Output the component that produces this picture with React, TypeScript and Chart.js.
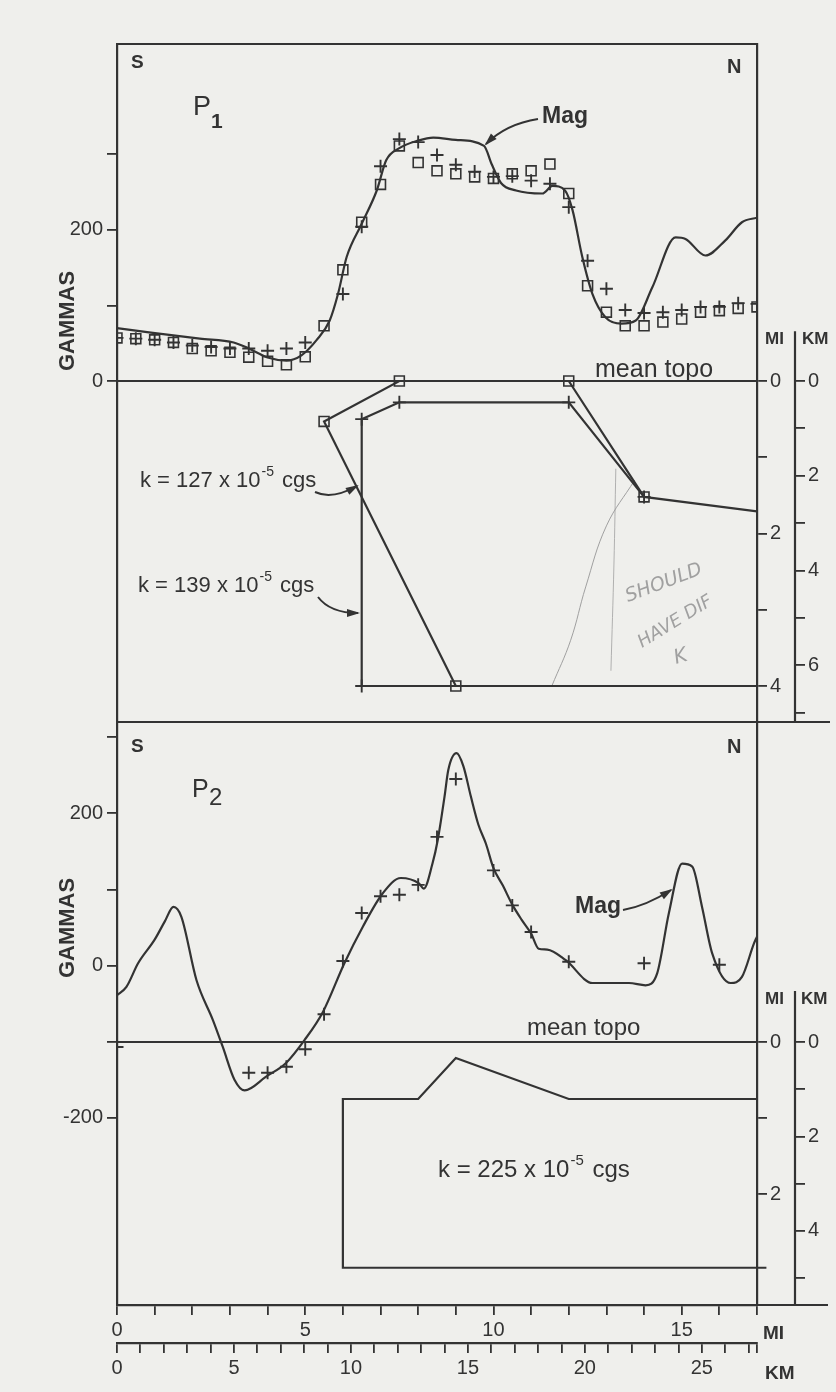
import React, { useEffect, useRef } from 'react';
import { Chart, registerables } from 'chart.js';

Chart.register(...registerables);

const INK = '#333333';
const PAPER = '#efefec';
const PENCIL = '#a0a0a0';
const FONT = '"Liberation Sans", Arial, sans-serif';
const KM_PER_MI = 1.609344;

// ---------- axis ticks ----------
const MI_TICKS = [0, 1, 2, 3, 4, 5, 6, 7, 8, 9, 10, 11, 12, 13, 14, 15, 16, 17];
const MI_LABELS = [0, 5, 10, 15];
const KM_TICKS = [0, 1, 2, 3, 4, 5, 6, 7, 8, 9, 10, 11, 12, 13, 14, 15, 16, 17, 18, 19, 20, 21, 22, 23, 24, 25, 26, 27];
const KM_LABELS = [0, 5, 10, 15, 20, 25];
const P1_GAMMA_TICKS = [0, 100, 200, 300];
const P1_GAMMA_LABELS = [0, 200];
const P2_GAMMA_TICKS = [300, 200, 100, 0, -100, -200];
const P2_GAMMA_LABELS = [200, 0, -200];
const P1_DEPTH_MI_TICKS = [0, 1, 2, 3, 4];
const P1_DEPTH_MI_LABELS = [0, 2, 4];
const P1_DEPTH_KM_TICKS = [0, 1, 2, 3, 4, 5, 6, 7];
const P1_DEPTH_KM_LABELS = [0, 2, 4, 6];
const P2_DEPTH_MI_TICKS = [0, 1, 2];
const P2_DEPTH_MI_LABELS = [0, 2];
const P2_DEPTH_KM_TICKS = [0, 1, 2, 3, 4, 5];
const P2_DEPTH_KM_LABELS = [0, 2, 4];

// ---------- P1 profile (gammas) ----------
const P1_MAG_MI = [0, 0.9, 2.2, 3.1, 3.5, 4.0, 4.5, 4.9, 5.3, 5.65, 5.87, 6.1, 6.5, 6.9, 7.15, 7.5, 8.0, 8.4, 9.0, 9.75, 9.95, 10.2, 10.6, 11.3, 11.57, 11.9, 12.1, 12.36, 12.63, 12.98, 13.4, 13.78, 14.22, 14.84, 15.1, 15.63, 16.16, 16.6, 17.0];
const P1_MAG_G = [70, 64, 56, 51, 43, 31, 27, 34, 54, 80, 115, 164, 208, 252, 292, 308, 318, 322, 319, 311, 287, 262, 252, 248, 258, 252, 226, 164, 115, 84, 76, 80, 124, 190, 188, 166, 186, 210, 216];

const P1_OBS_MI = [0, 0.5, 1, 1.5, 2, 2.5, 3, 3.5, 4, 4.5, 5, 5.5, 6, 6.5, 7, 7.5, 8, 8.5, 9, 9.5, 10, 10.5, 11, 11.5, 12, 12.5, 13, 13.5, 14, 14.5, 15, 15.5, 16, 16.5, 17];
const P1_SQUARE_G = [57, 56, 54.5, 51, 43, 40, 38, 31.5, 26, 21.4, 32, 73, 147, 210, 260, 311, 289, 278, 274, 270, 268, 274, 278, 287, 248, 126, 91, 73, 73, 78, 82, 91, 93, 96, 98];
const P1_PLUS_G = [57, 56, 54.5, 51, 47, 45, 43, 43, 40, 43, 51, null, 115, 204, 284, 320, 316, 299, 286, 277, 270, 271, 265, 261, 230, 159, 122, 94, 90, 91, 94, 98, 98, 103, 102];

// ---------- P1 models (depth, miles) ----------
const P1_SQ_MODEL_MI = [9, 5.5, 7.5, 12, 14, 17];
const P1_SQ_MODEL_DEPTH = [4, 0.53, 0, 0, 1.52, 1.71];
const P1_PLUS_MODEL_MI = [17, 6.5, 6.5, 7.5, 12, 14];
const P1_PLUS_MODEL_DEPTH = [4, 4, 0.5, 0.28, 0.28, 1.52];
const P1_SQ_VERTEX_MI = [5.5, 7.5, 12, 14, 9];
const P1_SQ_VERTEX_DEPTH = [0.53, 0, 0, 1.52, 4];
const P1_PLUS_VERTEX_MI = [6.5, 7.5, 12, 14, 6.5];
const P1_PLUS_VERTEX_DEPTH = [0.5, 0.28, 0.28, 1.52, 4];
const P1_PENCIL_A_MI = [13.75, 13.0, 12.45, 12.05, 11.55];
const P1_PENCIL_A_DEPTH = [1.3, 1.9, 2.7, 3.4, 4.0];
const P1_PENCIL_B_MI = [13.25, 13.2, 13.12];
const P1_PENCIL_B_DEPTH = [1.15, 2.4, 3.8];
const TOPO_MI = [0, 17];
const TOPO_DEPTH = [0, 0];

// ---------- P2 profile (gammas) ----------
const P2_MAG_MI = [0, 0.25, 0.56, 1.0, 1.27, 1.5, 1.71, 2.11, 2.55, 2.81, 3.12, 3.39, 3.96, 4.49, 4.98, 5.47, 6.04, 6.53, 7.06, 7.54, 8.02, 8.15, 8.38, 8.52, 8.7, 8.8, 9.02, 9.2, 9.4, 9.6, 9.8, 10.0, 10.25, 10.5, 10.75, 11.0, 11.2, 11.43, 11.92, 12.63, 13.6, 14.04, 14.35, 14.66, 15.01, 15.28, 15.54, 15.81, 16.3, 16.6, 16.92, 17.0];
const P2_MAG_G = [-39, -28, 3, 34, 58, 77, 64, -19, -72, -107, -150, -164, -146, -128, -98, -61, 3, 51, 95, 115, 108, 101, 134, 165, 222, 257, 279, 262, 222, 185, 160, 128, 105, 80, 60, 42, 22, 21, 7, -23, -23, -26, -10, 69, 134, 130, 77, 16, -23, -15, 29, 38];
const P2_PLUS_MI = [0, 3.5, 4, 4.5, 5, 5.5, 6, 6.5, 7, 7.5, 8, 8.5, 9, 10, 10.5, 11, 12, 14, 16];
const P2_PLUS_G = [-107, -141, -141, -133, -110, -64, 6, 69, 91, 93, 106, 169, 245, 125, 79, 44, 5, 3, 1];

// ---------- P2 model (depth, miles) ----------
const P2_BLOCK_MI = [17.25, 6, 6, 8, 9, 12, 17];
const P2_BLOCK_DEPTH = [2.97, 2.97, 0.75, 0.75, 0.21, 0.75, 0.75];

const pts = (xs: number[], ys: (number | null)[]) =>
  xs.map((x, i) => ({ x, y: ys[i] })).filter((p) => p.y !== null);

const setTicks = (vals: number[]) => (s: any) => {
  s.ticks = vals.map((v) => ({ value: v }));
};
const labelIf = (vals: number[]) => (v: any) => (vals.includes(Number(v)) ? String(v) : '');

const gridStyle = { display: true, drawOnChartArea: false, drawTicks: true, tickLength: 10, color: INK, lineWidth: 1.8 };
const borderStyle = { display: true, color: INK, width: 2.2 };
const tickFont = { family: FONT, size: 20 };

function drawArrow(ctx: CanvasRenderingContext2D, p0: number[], c: number[], p1: number[]) {
  ctx.beginPath();
  ctx.moveTo(p0[0], p0[1]);
  ctx.quadraticCurveTo(c[0], c[1], p1[0], p1[1]);
  ctx.stroke();
  const ang = Math.atan2(p1[1] - c[1], p1[0] - c[0]);
  const L = 11, W = 4;
  ctx.beginPath();
  ctx.moveTo(p1[0] + Math.cos(ang) * 2, p1[1] + Math.sin(ang) * 2);
  ctx.lineTo(p1[0] - Math.cos(ang) * L - Math.sin(ang) * W, p1[1] - Math.sin(ang) * L + Math.cos(ang) * W);
  ctx.lineTo(p1[0] - Math.cos(ang) * L + Math.sin(ang) * W, p1[1] - Math.sin(ang) * L - Math.cos(ang) * W);
  ctx.closePath();
  ctx.fill();
}

function drawK(ctx: CanvasRenderingContext2D, x: number, y: number, val: string, size: number) {
  ctx.textAlign = 'left';
  ctx.textBaseline = 'alphabetic';
  ctx.font = `${size}px ${FONT}`;
  const a = `k = ${val} x 10`;
  ctx.fillText(a, x, y);
  const w = ctx.measureText(a).width;
  ctx.font = `${Math.round(size * 0.62)}px ${FONT}`;
  ctx.fillText('-5', x + w + 1, y - size * 0.5);
  const w2 = ctx.measureText('-5').width;
  ctx.font = `${size}px ${FONT}`;
  ctx.fillText(' cgs', x + w + w2 + 3, y);
}

const decorPlugin = {
  id: 'decor',
  beforeDraw(chart: any) {
    const { ctx, width, height } = chart;
    ctx.save();
    ctx.fillStyle = PAPER;
    ctx.fillRect(0, 0, width, height);
    ctx.restore();
  },
  afterDraw(chart: any) {
    const { ctx, chartArea: a, scales } = chart;
    ctx.save();
    ctx.strokeStyle = INK;
    ctx.fillStyle = INK;
    ctx.lineWidth = 2.2;
    const seg = (x1: number, y1: number, x2: number, y2: number) => {
      ctx.beginPath();
      ctx.moveTo(x1, y1);
      ctx.lineTo(x2, y2);
      ctx.stroke();
    };
    // frame pieces
    seg(a.left - 1, a.top, a.right + 1, a.top);
    const sepY = scales.y1.bottom;
    seg(a.left, sepY, 830, sepY);
    seg(a.right, a.bottom, 828, a.bottom);
    const k1 = scales.km1, k2 = scales.km2;
    seg(k1.left, k1.getPixelForValue(-1.05), k1.left, k1.bottom);
    seg(k2.left, k2.getPixelForValue(-1.08), k2.left, k2.bottom);

    const text = (s: string, x: number, y: number, font: string) => {
      ctx.font = font;
      ctx.textAlign = 'left';
      ctx.textBaseline = 'alphabetic';
      ctx.fillText(s, x, y);
    };
    // panel labels
    text('S', 131, 68, `bold 19px ${FONT}`);
    text('N', 727, 73, `bold 20px ${FONT}`);
    text('P', 193, 115, `27px ${FONT}`);
    text('1', 211, 128, `bold 21px ${FONT}`);
    text('S', 131, 752, `bold 19px ${FONT}`);
    text('N', 727, 753, `bold 20px ${FONT}`);
    text('P', 192, 797, `25px ${FONT}`);
    text('2', 209, 805, `24px ${FONT}`);

    // GAMMAS
    for (const cy of [321, 928]) {
      ctx.save();
      ctx.translate(68, cy);
      ctx.rotate(-Math.PI / 2);
      ctx.font = `bold 22px ${FONT}`;
      ctx.textAlign = 'center';
      ctx.textBaseline = 'middle';
      ctx.fillText('GAMMAS', 0, 0);
      ctx.restore();
    }

    text('mean topo', 595, 377, `25px ${FONT}`);
    text('mean topo', 527, 1035, `24px ${FONT}`);
    text('Mag', 542, 123, `bold 23px ${FONT}`);
    text('Mag', 575, 913, `bold 23px ${FONT}`);

    ctx.lineWidth = 2;
    drawArrow(ctx, [538, 119], [506, 124], [486, 144]);
    drawArrow(ctx, [623, 910], [646, 906], [671, 890]);
    drawArrow(ctx, [315, 492], [332, 500], [357, 486]);
    drawArrow(ctx, [318, 597], [330, 613], [358, 613]);

    drawK(ctx, 140, 487, '127', 22);
    drawK(ctx, 138, 592, '139', 22);
    drawK(ctx, 438, 1177, '225', 24);

    // depth axis headers
    text('MI', 765, 344, `bold 17px ${FONT}`);
    text('KM', 802, 344, `bold 17px ${FONT}`);
    text('MI', 765, 1004, `bold 17px ${FONT}`);
    text('KM', 801, 1004, `bold 17px ${FONT}`);
    // bottom axis units
    text('MI', 763, 1339, `bold 19px ${FONT}`);
    text('KM', 765, 1379, `bold 19px ${FONT}`);

    // pencil note
    ctx.fillStyle = PENCIL;
    const pencil = (s: string, x: number, y: number, rot: number, size: number) => {
      ctx.save();
      ctx.translate(x, y);
      ctx.rotate(rot);
      ctx.font = `italic ${size}px "DejaVu Sans", sans-serif`;
      ctx.textAlign = 'left';
      ctx.textBaseline = 'alphabetic';
      ctx.fillText(s, 0, 0);
      ctx.restore();
    };
    pencil('SHOULD', 628, 602, -0.36, 19);
    pencil('HAVE DIF', 642, 648, -0.55, 18);
    pencil('K', 676, 664, -0.3, 20);
    ctx.restore();
  },
};

export default function App() {
  const ref = useRef<HTMLCanvasElement>(null);
  useEffect(() => {
    const canvas = ref.current;
    if (!canvas) return;

    const line = (data: any[], yAxisID: string, extra: any = {}) => ({
      type: 'line',
      data,
      xAxisID: 'x',
      yAxisID,
      borderColor: INK,
      borderWidth: 2.2,
      pointRadius: 0,
      fill: false,
      tension: 0,
      showLine: true,
      ...extra,
    });
    const markers = (data: any[], yAxisID: string, style: string) => ({
      type: 'line',
      data,
      xAxisID: 'x',
      yAxisID,
      showLine: false,
      pointStyle: style,
      pointRadius: style === 'rect' ? 7 : 6.5,
      pointBorderColor: INK,
      pointBackgroundColor: 'rgba(0,0,0,0)',
      pointBorderWidth: style === 'rect' ? 1.6 : 1.9,
      borderColor: INK,
    });

    const datasets: any[] = [
      line(pts(P1_MAG_MI, P1_MAG_G), 'y1', { cubicInterpolationMode: 'monotone' }),
      markers(pts(P1_OBS_MI, P1_SQUARE_G), 'y1', 'rect'),
      markers(pts(P1_OBS_MI, P1_PLUS_G), 'y1', 'cross'),
      line(pts(TOPO_MI, TOPO_DEPTH), 'mi1'),
      line(pts(P1_SQ_MODEL_MI, P1_SQ_MODEL_DEPTH), 'mi1'),
      line(pts(P1_PLUS_MODEL_MI, P1_PLUS_MODEL_DEPTH), 'mi1'),
      markers(pts(P1_SQ_VERTEX_MI, P1_SQ_VERTEX_DEPTH), 'mi1', 'rect'),
      markers(pts(P1_PLUS_VERTEX_MI, P1_PLUS_VERTEX_DEPTH), 'mi1', 'cross'),
      line(pts(P1_PENCIL_A_MI, P1_PENCIL_A_DEPTH), 'mi1', { borderColor: PENCIL, borderWidth: 1, tension: 0.4 }),
      line(pts(P1_PENCIL_B_MI, P1_PENCIL_B_DEPTH), 'mi1', { borderColor: PENCIL, borderWidth: 0.8, tension: 0.4 }),
      line(pts(P2_MAG_MI, P2_MAG_G), 'y2', { cubicInterpolationMode: 'monotone' }),
      markers(pts(P2_PLUS_MI, P2_PLUS_G), 'y2', 'cross'),
      line(pts(TOPO_MI, TOPO_DEPTH), 'mi2'),
      line(pts(P2_BLOCK_MI, P2_BLOCK_DEPTH), 'mi2', { clip: false }),
    ];

    const common = { grid: gridStyle, border: borderStyle };
    const tk = (labels: number[], padding: number) => ({
      color: INK, font: tickFont, padding, autoSkip: false, maxRotation: 0, callback: labelIf(labels),
    });

    const chart = new Chart(canvas, {
      type: 'line',
      data: { datasets },
      plugins: [decorPlugin],
      options: {
        responsive: false,
        animation: false,
        events: [],
        layout: { padding: { top: 44, left: 0, right: 0, bottom: 0 } },
        plugins: { legend: { display: false }, tooltip: { enabled: false }, title: { display: false } },
        scales: {
          x: {
            type: 'linear', position: 'bottom', weight: 0, min: 0, max: 17,
            afterBuildTicks: setTicks(MI_TICKS), afterFit: (s: any) => { s.height = 38; },
            ticks: tk(MI_LABELS, 3), ...common,
          },
          xkm: {
            type: 'linear', position: 'bottom', weight: 1, min: 0, max: 17 * KM_PER_MI,
            afterBuildTicks: setTicks([...KM_TICKS, 17 * KM_PER_MI]), afterFit: (s: any) => { s.height = 49; },
            ticks: tk(KM_LABELS, 3), ...common,
          },
          y1: {
            type: 'linear', position: 'left', stack: 'gam', stackWeight: 678, weight: 1,
            min: -451.1, max: 445.8,
            afterBuildTicks: setTicks(P1_GAMMA_TICKS), afterFit: (s: any) => { s.width = 117; },
            ticks: tk(P1_GAMMA_LABELS, 4), ...common,
          },
          y2: {
            type: 'linear', position: 'left', stack: 'gam', stackWeight: 583, weight: 0,
            min: -446.1, max: 320,
            afterBuildTicks: setTicks(P2_GAMMA_TICKS), afterFit: (s: any) => { s.width = 117; },
            ticks: tk(P2_GAMMA_LABELS, 4), ...common,
          },
          mi1: {
            type: 'linear', position: 'right', stack: 'mi', stackWeight: 678, weight: 0, reverse: true,
            min: -4.42, max: 4.472,
            afterBuildTicks: setTicks(P1_DEPTH_MI_TICKS), afterFit: (s: any) => { s.width = 38; },
            ticks: tk(P1_DEPTH_MI_LABELS, 3), ...common,
          },
          mi2: {
            type: 'linear', position: 'right', stack: 'mi', stackWeight: 583, weight: 0.5, reverse: true,
            min: -4.21, max: 3.46,
            afterBuildTicks: setTicks(P2_DEPTH_MI_TICKS), afterFit: (s: any) => { s.width = 38; },
            ticks: tk(P2_DEPTH_MI_LABELS, 3), ...common,
          },
          km1: {
            type: 'linear', position: 'right', stack: 'km', stackWeight: 678, weight: 1, reverse: true,
            min: -4.42 * KM_PER_MI, max: 4.472 * KM_PER_MI,
            afterBuildTicks: setTicks(P1_DEPTH_KM_TICKS), afterFit: (s: any) => { s.width = 41; },
            ticks: tk(P1_DEPTH_KM_LABELS, 3), grid: gridStyle, border: { display: false },
          },
          km2: {
            type: 'linear', position: 'right', stack: 'km', stackWeight: 583, weight: 1.5, reverse: true,
            min: -4.21 * KM_PER_MI, max: 3.46 * KM_PER_MI,
            afterBuildTicks: setTicks(P2_DEPTH_KM_TICKS), afterFit: (s: any) => { s.width = 41; },
            ticks: tk(P2_DEPTH_KM_LABELS, 3), grid: gridStyle, border: { display: false },
          },
        },
      },
    } as any);
    return () => chart.destroy();
  }, []);

  return (
    <div style={{ position: 'absolute', left: 0, top: 0, width: 836, height: 1392, background: PAPER }}>
      <canvas ref={ref} width={836} height={1392} style={{ display: 'block', width: 836, height: 1392 }} />
    </div>
  );
}
